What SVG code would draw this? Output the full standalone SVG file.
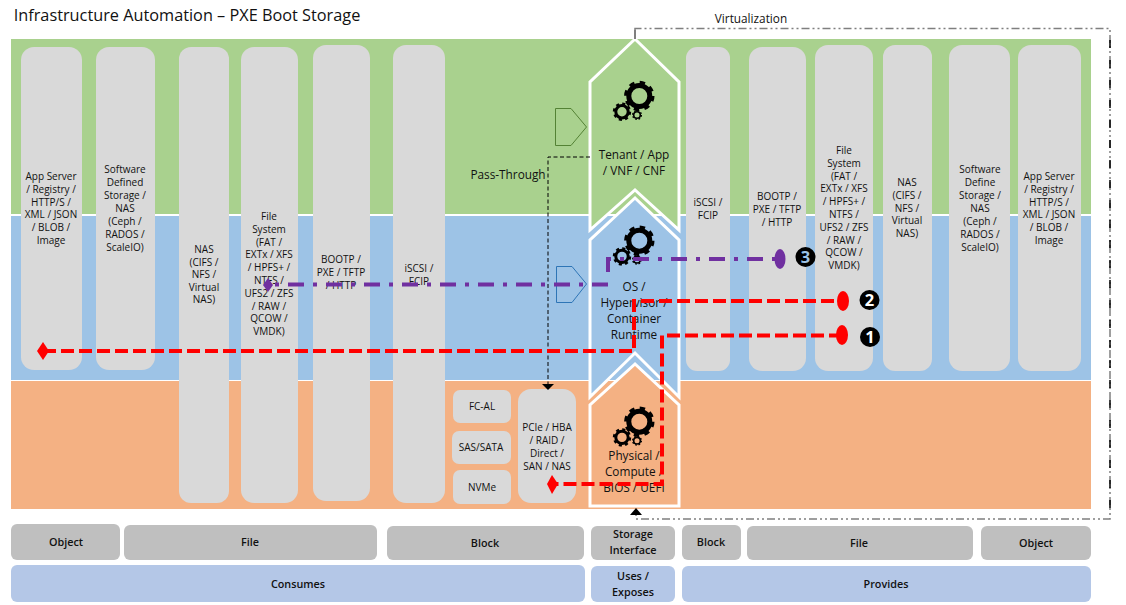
<svg xmlns="http://www.w3.org/2000/svg" width="1126" height="605" viewBox="0 0 1126 605">
<style>
text{font-family:"Open Sans","Noto Sans","Liberation Sans",sans-serif;fill:#111;text-anchor:middle}
.c{fill:#d9d9d9}
.c text,.t{font-size:10px}
.chev{stroke:#fff;stroke-width:3}
.l{font-size:11.8px}
.g{fill:#bfbfbf}
.b{fill:#b4c7e7}
.h{font-size:10.8px;font-weight:600}
.red{fill:none;stroke:#f00;stroke-width:4;stroke-dasharray:13 5}
.pur{fill:none;stroke:#7030a0;stroke-width:4;stroke-dasharray:16 9 4 9}
.num{fill:#000}
.numt{fill:#fff;font-size:16.5px;font-weight:700}
</style>
<defs>
<g id="gear-big"><circle r="10.5" fill="none" stroke="#000" stroke-width="5"/><circle r="13.2" fill="none" stroke="#000" stroke-width="4" stroke-dasharray="5.2 5.17"/></g>
<g id="gear-mid"><circle r="6.2" fill="none" stroke="#000" stroke-width="3"/><circle r="8" fill="none" stroke="#000" stroke-width="2.4" stroke-dasharray="3.1 3.18"/></g>
<g id="gear-small"><circle r="3.3" fill="none" stroke="#000" stroke-width="1.6"/><circle r="4.4" fill="none" stroke="#000" stroke-width="1.3" stroke-dasharray="1.7 1.75"/></g>
<g id="gears"><use href="#gear-big" x="639.3" y="0"/><use href="#gear-mid" x="622" y="15.7"/><use href="#gear-small" x="637" y="19"/></g>
</defs>
<rect width="1126" height="605" fill="#fff"/>
<text x="187" y="20.500" style="font-size:16.3px" fill="#222">Infrastructure Automation – PXE Boot Storage</text>
<g id="bands">
<rect x="11" y="39" width="1080" height="175" fill="#a9d18e"/>
<rect x="11" y="216" width="1080" height="164" fill="#9dc3e6"/>
<rect x="11" y="381" width="1080" height="128" fill="#f4b183"/>
</g>
<g id="col-app-left" class="c"><rect x="21" y="47" width="61" height="323" rx="13"/><text y="180"><tspan x="51" dy="0">App Server</tspan><tspan x="51" dy="12.8">/ Registry /</tspan><tspan x="51" dy="12.8">HTTP/S /</tspan><tspan x="51" dy="12.8">XML / JSON</tspan><tspan x="51" dy="12.8">/ BLOB /</tspan><tspan x="51" dy="12.8">Image</tspan></text></g>
<g id="col-sds-left" class="c"><rect x="96" y="47" width="59" height="323" rx="13"/><text y="173"><tspan x="125" dy="0">Software</tspan><tspan x="125" dy="13">Defined</tspan><tspan x="125" dy="13">Storage /</tspan><tspan x="125" dy="13">NAS</tspan><tspan x="125" dy="13">(Ceph /</tspan><tspan x="125" dy="13">RADOS /</tspan><tspan x="125" dy="13">ScaleIO)</tspan></text></g>
<g id="col-nas-left" class="c"><rect x="179" y="47" width="50" height="456" rx="12"/><text y="253"><tspan x="204" dy="0">NAS</tspan><tspan x="204" dy="12.5">(CIFS /</tspan><tspan x="204" dy="12.5">NFS /</tspan><tspan x="204" dy="12.5">Virtual</tspan><tspan x="204" dy="12.5">NAS)</tspan></text></g>
<g id="col-fs-left" class="c"><rect x="241" y="47" width="57" height="456" rx="13"/><text y="220"><tspan x="269" dy="0">File</tspan><tspan x="269" dy="12.8">System</tspan><tspan x="269" dy="12.8">(FAT /</tspan><tspan x="269" dy="12.8">EXTx / XFS</tspan><tspan x="269" dy="12.8">/ HPFS+ /</tspan><tspan x="269" dy="12.8">NTFS /</tspan><tspan x="269" dy="12.8">UFS2 / ZFS</tspan><tspan x="269" dy="12.8">/ RAW /</tspan><tspan x="269" dy="12.8">QCOW /</tspan><tspan x="269" dy="12.8">VMDK)</tspan></text></g>
<g id="col-boot-left" class="c"><rect x="313" y="45" width="57" height="456" rx="13"/><text y="263"><tspan x="341" dy="0">BOOTP /</tspan><tspan x="341" dy="13">PXE / TFTP</tspan><tspan x="341" dy="13">/ HTTP</tspan></text></g>
<g id="col-iscsi-left" class="c"><rect x="393" y="45" width="52" height="458" rx="13"/><text y="272"><tspan x="419" dy="0">iSCSI /</tspan><tspan x="419" dy="13">FCIP</tspan></text></g>
<g id="col-fcal" class="c"><rect x="453" y="390" width="58" height="33" rx="7"/><text x="482" y="410">FC-AL</text></g>
<g id="col-sas" class="c"><rect x="452" y="431" width="59" height="33" rx="7"/><text x="481" y="451">SAS/SATA</text></g>
<g id="col-nvme" class="c"><rect x="453" y="470" width="58" height="34" rx="7"/><text x="482" y="491">NVMe</text></g>
<g id="col-pcie" class="c"><rect x="518" y="389" width="58" height="114" rx="13"/><text y="431"><tspan x="547" dy="0">PCIe / HBA</tspan><tspan x="547" dy="13">/ RAID /</tspan><tspan x="547" dy="13">Direct /</tspan><tspan x="547" dy="13">SAN / NAS</tspan></text></g>
<g id="col-iscsi-right" class="c"><rect x="686" y="47" width="44" height="324" rx="11"/><text y="206"><tspan x="708" dy="0">iSCSI /</tspan><tspan x="708" dy="13">FCIP</tspan></text></g>
<g id="col-boot-right" class="c"><rect x="749" y="47" width="57" height="324" rx="13"/><text y="200"><tspan x="777" dy="0">BOOTP /</tspan><tspan x="777" dy="13">PXE / TFTP</tspan><tspan x="777" dy="13">/ HTTP</tspan></text></g>
<g id="col-fs-right" class="c"><rect x="815" y="45" width="58" height="326" rx="13"/><text y="154"><tspan x="844" dy="0">File</tspan><tspan x="844" dy="12.8">System</tspan><tspan x="844" dy="12.8">(FAT /</tspan><tspan x="844" dy="12.8">EXTx / XFS</tspan><tspan x="844" dy="12.8">/ HPFS+ /</tspan><tspan x="844" dy="12.8">NTFS /</tspan><tspan x="844" dy="12.8">UFS2 / ZFS</tspan><tspan x="844" dy="12.8">/ RAW /</tspan><tspan x="844" dy="12.8">QCOW /</tspan><tspan x="844" dy="12.8">VMDK)</tspan></text></g>
<g id="col-nas-right" class="c"><rect x="883" y="45" width="49" height="326" rx="12"/><text y="186"><tspan x="907" dy="0">NAS</tspan><tspan x="907" dy="12.8">(CIFS /</tspan><tspan x="907" dy="12.8">NFS /</tspan><tspan x="907" dy="12.8">Virtual</tspan><tspan x="907" dy="12.8">NAS)</tspan></text></g>
<g id="col-sds-right" class="c"><rect x="949" y="45" width="61" height="326" rx="13"/><text y="173"><tspan x="980" dy="0">Software</tspan><tspan x="980" dy="13">Define</tspan><tspan x="980" dy="13">Storage /</tspan><tspan x="980" dy="13">NAS</tspan><tspan x="980" dy="13">(Ceph /</tspan><tspan x="980" dy="13">RADOS /</tspan><tspan x="980" dy="13">ScaleIO)</tspan></text></g>
<g id="col-app-right" class="c"><rect x="1018" y="45" width="63" height="326" rx="13"/><text y="180"><tspan x="1049" dy="0">App Server</tspan><tspan x="1049" dy="12.8">/ Registry /</tspan><tspan x="1049" dy="12.8">HTTP/S /</tspan><tspan x="1049" dy="12.8">XML / JSON</tspan><tspan x="1049" dy="12.8">/ BLOB /</tspan><tspan x="1049" dy="12.8">Image</tspan></text></g>
<g id="tenant"><polygon class="chev" fill="#a9d18e" points="635,39 590,82 590,230 635,190 679,230 679,82"/><use href="#gears" y="96"/><text class="l" y="159"><tspan x="634" dy="0">Tenant / App</tspan><tspan x="634" dy="16">/ VNF / CNF</tspan></text></g>
<g id="os"><polygon class="chev" fill="#9dc3e6" points="635,198 590,240 590,397 635,353 679,397 679,240"/><use href="#gears" y="240.7"/><text class="l" y="291"><tspan x="634" dy="0">OS /</tspan><tspan x="634" dy="16">Hypervisor /</tspan><tspan x="634" dy="16">Container</tspan><tspan x="634" dy="16">Runtime</tspan></text></g>
<g id="physical"><polygon class="chev" fill="#f4b183" points="635,364 590,405 590,506 679,506 679,405"/><use href="#gears" y="421.7"/><text class="l" y="460"><tspan x="634" dy="0">Physical /</tspan><tspan x="634" dy="16">Compute /</tspan><tspan x="634" dy="16">BIOS / UEFI</tspan></text></g>
<g id="pentagons"><polygon points="555.5,108.500 571,108.500 586.500,127 571,145.500 555.500,145.500" fill="none" stroke="#548235"/><polygon points="556.500,266.500 572,266.500 586.500,284 572,302.500 556.500,302.500" fill="none" stroke="#2e75b6"/></g>
<text x="508" y="179" class="l">Pass-Through</text>
<text x="751" y="23" style="font-size:11.800px">Virtualization</text>
<g id="connectors">
<path d="M635 30V28.500H1110V519H636V512" fill="none" stroke="#7f7f7f" stroke-width="1.500" stroke-dasharray="8 3 2 3 2 3"/>
<path d="M1110 40V519" fill="none" stroke="#000" stroke-width="1.500" stroke-dasharray="8 12"/>
<path d="M635 30V39" stroke="#000" fill="none"/>
<path d="M590 157H548V384" fill="none" stroke="#000" stroke-dasharray="4 2.500"/>
<polygon points="542,384 554,384 548,390" fill="#000"/>
<polygon points="630,515 642,515 636,508" fill="#000"/>
<path class="pur" d="M608 284.500H268"/>
<polygon points="268,278 273,285 268,292 263,285" fill="#7030a0"/>
<path class="pur" d="M608 272V259H780" stroke-dasharray="14 9 16 9 4 9"/>
<ellipse cx="780" cy="259" rx="5.500" ry="10" fill="#7030a0"/>
<path class="red" d="M43 351H634V301H843"/>
<polygon points="43,342 49,351 43,360 37,351" fill="#f00"/>
<ellipse cx="843" cy="301" rx="6" ry="10" fill="#f00"/>
<path class="red" d="M842 335.500H662V484H552"/>
<polygon points="552,475 558,484 552,494 547,484" fill="#f00"/>
<ellipse cx="842" cy="335" rx="6" ry="10" fill="#f00"/>
</g>
<g id="markers">
<circle cx="805.500" cy="257" r="10" class="num"/><text x="805.500" y="263" class="numt" style="fill:#9dc3e6">3</text>
<circle cx="869.500" cy="300" r="10" class="num"/><text x="869.500" y="306" class="numt">2</text>
<circle cx="870" cy="337" r="10" class="num"/><text x="870" y="343" class="numt">1</text>
</g>
<g id="row-storage">
<g id="s-object-l"><rect class="g" x="11" y="524" width="109" height="36" rx="6"/><text class="h" x="66" y="546">Object</text></g>
<g id="s-file-l"><rect class="g" x="124" y="525" width="253" height="35" rx="6"/><text class="h" x="250" y="546">File</text></g>
<g id="s-block-l"><rect class="g" x="387" y="526" width="197" height="34" rx="6"/><text class="h" x="485" y="547">Block</text></g>
<g id="s-iface"><rect class="g" x="591" y="526" width="84" height="34" rx="6"/><text class="h" y="538"><tspan x="633" dy="0">Storage</tspan><tspan x="633" dy="15.500">Interface</tspan></text></g>
<g id="s-block-r"><rect class="g" x="682" y="525" width="59" height="35" rx="6"/><text class="h" x="711" y="546">Block</text></g>
<g id="s-file-r"><rect class="g" x="747" y="526" width="226" height="34" rx="6"/><text class="h" x="859" y="547">File</text></g>
<g id="s-object-r"><rect class="g" x="981" y="526" width="110" height="34" rx="6"/><text class="h" x="1036" y="547">Object</text></g>
</g>
<g id="row-usage">
<g id="u-consumes"><rect class="b" x="11" y="565" width="574" height="37" rx="6"/><text class="h" x="298" y="588">Consumes</text></g>
<g id="u-uses"><rect class="b" x="591" y="566" width="84" height="36" rx="6"/><text class="h" y="580"><tspan x="633" dy="0">Uses /</tspan><tspan x="633" dy="16">Exposes</tspan></text></g>
<g id="u-provides"><rect class="b" x="682" y="566" width="409" height="36" rx="6"/><text class="h" x="886" y="588">Provides</text></g>
</g>
</svg>
